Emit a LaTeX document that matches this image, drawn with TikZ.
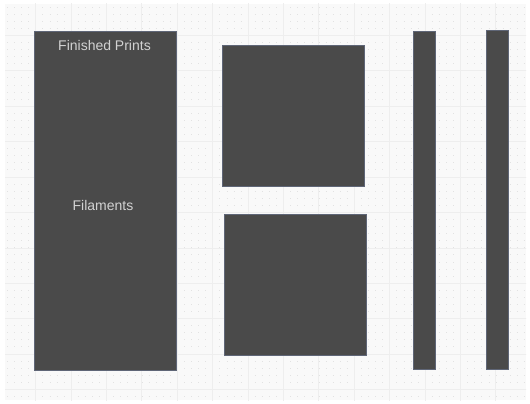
\documentclass[tikz,border=0pt]{standalone}
\usepackage{fontspec}
\setmainfont{Liberation Sans}
\usepackage{xcolor}
\definecolor{panel}{HTML}{4A4A4A}
\definecolor{panelrim}{HTML}{5F6677}
\definecolor{canvas}{HTML}{F9F9F9}
\definecolor{gridline}{HTML}{EEEEEE}
\definecolor{griddot}{HTML}{E2E2E2}
\definecolor{label}{HTML}{D2D2D2}

\tikzset{
  block/.style={draw=panelrim, line width=0.6pt, fill=panel, inner sep=0pt},
  caption/.style={text=label, font=\fontsize{14}{16}\selectfont, inner sep=0pt}
}

\begin{document}
\begin{tikzpicture}[x=1pt,y=-1pt]
  \useasboundingbox (0,0) rectangle (530,404);
  \fill[white] (0,0) rectangle (530,404);
  \fill[canvas] (5,4) rectangle (526,400);
  \begin{scope}
    \clip (5,4) rectangle (526,400);
    \foreach \y in {0,...,57}
      \draw[griddot, line width=0.9pt, dash pattern=on 0.9pt off 6.18pt] (0,\y*7.08) -- (530,\y*7.08);
    \foreach \x in {1,...,14}
      \draw[gridline, line width=0.6pt] (\x*35.4,0) -- (\x*35.4,404);
    \foreach \y in {1,...,11}
      \draw[gridline, line width=0.6pt] (0,\y*35.4) -- (530,\y*35.4);
  \end{scope}

  \node[block, minimum width=141.3pt, minimum height=338.3pt] (stock) at (105.35,200.85) {};
  \node[block, minimum width=142pt, minimum height=141.7pt] (upper) at (293.7,115.85) {};
  \node[block, minimum width=142pt, minimum height=141.7pt] (lower) at (295,284.85) {};
  \node[block, minimum width=22.4pt, minimum height=338pt] (railA) at (424.5,200.7) {};
  \node[block, minimum width=22.4pt, minimum height=339pt] (railB) at (497.5,199.8) {};

  \node[caption] (prints) at (104.5,45) {Finished Prints};
  \node[caption] (filaments) at (103,205.5) {Filaments};
\end{tikzpicture}
\end{document}
